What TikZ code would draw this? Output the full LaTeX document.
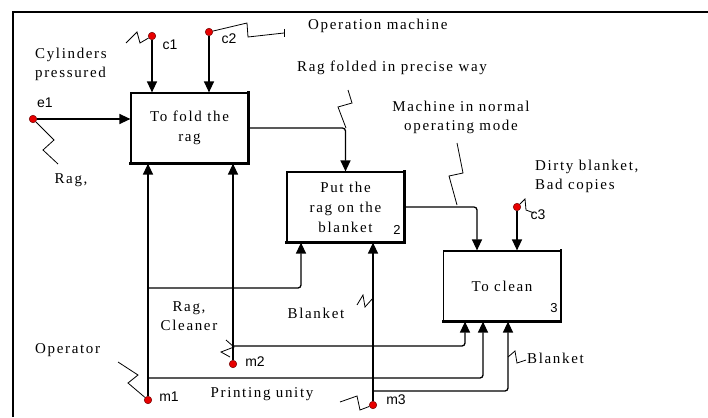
\documentclass[tikz,border=0pt]{standalone}
\usepackage{fontspec}
\setmainfont{Liberation Serif}[LetterSpace=11]
\newfontfamily\pinfont{Liberation Sans}
\usetikzlibrary{arrows.meta, positioning}
\definecolor{pinred}{HTML}{E80000}
\definecolor{pinedge}{HTML}{700000}
\tikzset{
  actbox/.style={draw=black, line width=1.2pt, minimum width=117pt, minimum height=70pt,
                 align=center, inner sep=2pt, font=\fontsize{15}{20}\selectfont},
  pin/.style={circle, fill=pinred, draw=pinedge, line width=0.5pt,
              minimum size=7.5pt, inner sep=0pt},
  pinlbl/.style={font=\pinfont\fontsize{14}{14}\selectfont, inner sep=0pt},
  numlbl/.style={font=\pinfont\fontsize{13}{13}\selectfont, inner sep=0pt},
  lbl/.style={font=\fontsize{15}{19}\selectfont, inner sep=0pt, align=left},
  arr/.style={-{Triangle[width=10pt,length=11pt]}, line width=1.3pt, rounded corners=3pt},
  squig/.style={line width=0.8pt},
}

\begin{document}
\begin{tikzpicture}[x=1pt, y=-1pt]
  \useasboundingbox (0,0) rectangle (708,417);
  %% Frame
  \draw[line width=1.2pt] (13,417) -- (13,12) -- (708,12);

  %% Activities
  \node[actbox] (fold)  at (189.5,128) {To fold the\\rag};
  \node[actbox] (put)   at (345.5,207) {Put the\\rag on the\\blanket};
  \node[actbox] (clean) at (502,286)   {To clean};
  \foreach \b in {fold, put, clean}{
    \draw[line width=2.6pt, line cap=rect] (\b.north east) -- (\b.south east) -- (\b.south west);
  }
  \node[numlbl] (n2) at (397,230) {2};
  \node[numlbl] (n3) at (554,308) {3};

  %% Pins
  \node[pin] (c1) at (152,36)  {};
  \node[pin] (c2) at (209,32)  {};
  \node[pin] (e1) at (33,119)  {};
  \node[pin] (c3) at (517,207) {};
  \node[pin] (m1) at (148,400) {};
  \node[pin] (m2) at (233,364) {};
  \node[pin] (m3) at (373,405) {};
  \node[pinlbl] at (170,45)  {c1};
  \node[pinlbl] at (229,39)  {c2};
  \node[pinlbl] at (45,103)  {e1};
  \node[pinlbl] at (538,215) {c3};
  \node[pinlbl] at (169,397) {m1};
  \node[pinlbl] at (255,362) {m2};
  \node[pinlbl] at (396,400) {m3};

  %% Labels
  \node[lbl, anchor=west] (cyl)      at (35,64.5) {Cylinders\\pressured};
  \node[lbl, anchor=west] (opmach)   at (308,26)  {Operation machine};
  \node[lbl, anchor=west] (ragfold)  at (297,68)  {Rag folded in precise way};
  \node[lbl, align=center] (normal)  at (461,117) {Machine in normal\\operating mode};
  \node[lbl, anchor=west] (dirty)    at (535,176) {Dirty blanket,\\Bad copies};
  \node[lbl] (rag)                   at (71,180)  {Rag,};
  \node[lbl, align=center] (ragcln)  at (189,316) {Rag,\\Cleaner};
  \node[lbl] (blanket)               at (316,313) {Blanket};
  \node[lbl, anchor=west] (operator) at (35,350)  {Operator};
  \node[lbl] (printing)              at (262,394) {Printing unity};
  \node[lbl, anchor=west] (blanketr) at (527,358) {Blanket};

  %% Controls and inputs
  \draw[arr] (c1) -- (c1 |- fold.north);
  \draw[arr] (c2) -- (c2 |- fold.north);
  \draw[arr] (e1) -- (e1 -| fold.west);
  \draw[arr] (c3) -- (c3 |- clean.north);
  \draw[arr] (fold) -| (put);
  \draw[arr] (put) -| ([xshift=-25pt]clean.north);

  %% Mechanisms
  \coordinate (j1) at (m1 |- 0,288);
  \coordinate (j2) at (m1 |- 0,378);
  \coordinate (j3) at (m2 |- 0,346);
  \coordinate (j4) at (m3 |- 0,391);
  \draw[arr] (m1) -- (m1 |- fold.south);
  \draw[arr] (m2) -- (m2 |- fold.south);
  \draw[arr] (m3) -- (m3 |- put.south);
  \draw[arr] (j1) -| ([xshift=-44.5pt]put.south);
  \draw[arr] (j2) -| ([xshift=-19pt]clean.south);
  \draw[arr] (j3) -| ([xshift=-37pt]clean.south);
  \draw[arr] (j4) -| ([xshift=6pt]clean.south);

  %% Squiggles
  \draw[squig] (126,43) -- (137,32) -- (140,43) -- (c1);
  \draw[squig] (c2) -- (247,23) -- (248,37) -- (284,33);
  \draw[squig] (284,29) -- (284,37);
  \draw[squig] (e1) -- (54,140) -- (43,150) -- (58,164);
  \draw[squig] (348,90) -- (352,103) -- (338,107) -- (346,128);
  \draw[squig] (457,143) -- (463,173) -- (449,176) -- (457,205);
  \draw[squig] (c3) -- (525,199) -- (526,210) -- (534,213);
  \draw[squig] (118,362) -- (138,375) -- (128,383) -- (m1);
  \draw[squig] (226,340) -- (234,347) -- (221,352) -- (230,357);
  \draw[squig] (357,305) -- (363,295) -- (365,307) -- (373,298);
  \draw[squig] (340,402) -- (357,396) -- (360,410) -- (m3);
  \draw[squig] (508,357) -- (515,351) -- (517,363) -- (526,360);
\end{tikzpicture}
\end{document}
